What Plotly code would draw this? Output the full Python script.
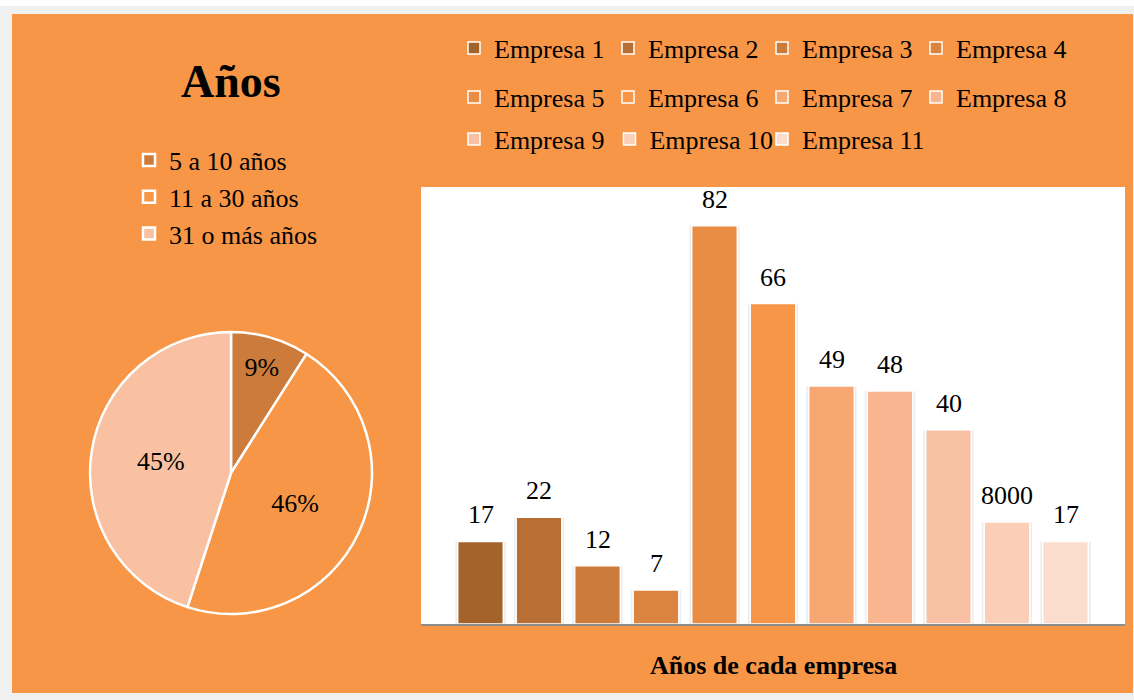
import plotly.graph_objects as go

# ---- data ----
empresas = ["Empresa 1", "Empresa 2", "Empresa 3", "Empresa 4", "Empresa 5", "Empresa 6",
            "Empresa 7", "Empresa 8", "Empresa 9", "Empresa 10", "Empresa 11"]
bar_values = [17, 22, 12, 7, 82, 66, 49, 48, 40, 21, 17]
bar_labels = ["17", "22", "12", "7", "82", "66", "49", "48", "40", "8000", "17"]
bar_colors = ["#A5632C", "#B96F33", "#CC7B3A", "#DA843F", "#E98D45", "#F79646",
              "#F7A772", "#F8B58F", "#F9C1A4", "#FBCEB8", "#FCDCCD"]

pie_labels = ["5 a 10 años", "11 a 30 años", "31 o más años"]
pie_values = [9, 46, 45]
pie_colors = ["#CC7B3A", "#F79646", "#F9C0A2"]

W, H = 1134, 700
FONT = "Liberation Serif, Times New Roman, serif"

def px(x):
    return x / W

def py(y):
    return 1 - y / H

fig = go.Figure()

positions = list(range(1, len(empresas) + 1))

# faint shadow behind bars
fig.add_trace(go.Bar(
    x=positions, y=bar_values, width=0.86, showlegend=False, hoverinfo="skip",
    marker=dict(color="rgba(0,0,0,0.07)", line=dict(width=0)),
))

legend_rows = ["legend"] * 4 + ["legend3"] * 4 + ["legend4"] * 2 + ["legend5"]

for i, (name, v, c) in enumerate(zip(empresas, bar_values, bar_colors)):
    fig.add_trace(go.Bar(
        x=[positions[i]], y=[v], name=name, width=0.78,
        marker=dict(color=c, line=dict(color="white", width=1.5)),
        legend=legend_rows[i], hoverinfo="skip",
    ))

fig.add_trace(go.Pie(
    labels=pie_labels, values=pie_values, sort=False, direction="clockwise",
    marker=dict(colors=pie_colors, line=dict(color="white", width=2.5)),
    textinfo="percent", texttemplate="%{percent:.0%}", textposition="inside",
    insidetextorientation="horizontal",
    textfont=dict(family=FONT, size=26, color="black"),
    domain=dict(x=[px(90), px(372)], y=[py(614), py(332)]),
    legend="legend2", hoverinfo="skip",
))

annotations = []
for i, (v, t) in enumerate(zip(bar_values, bar_labels)):
    annotations.append(dict(x=positions[i], y=v, xref="x", yref="y", text=t, showarrow=False,
                            xanchor="center", yanchor="bottom", yshift=10,
                            font=dict(family=FONT, size=26, color="black")))
annotations.append(dict(x=px(231), y=py(82), xref="paper", yref="paper", text="<b>Años</b>",
                        showarrow=False, xanchor="center", yanchor="middle",
                        font=dict(family=FONT, size=46, color="black")))
annotations.append(dict(x=px(773), y=py(665), xref="paper", yref="paper",
                        text="<b>Años de cada empresa</b>", showarrow=False,
                        xanchor="center", yanchor="middle",
                        font=dict(family=FONT, size=26, color="black")))

shapes = [
    dict(type="rect", xref="paper", yref="paper", x0=0, x1=1, y0=py(6), y1=1,
         fillcolor="white", line=dict(width=0), layer="below"),
    dict(type="rect", xref="paper", yref="paper", x0=px(12), x1=px(1133), y0=py(693), y1=py(14),
         fillcolor="#F79646", line=dict(width=0), layer="below"),
    dict(type="rect", xref="x domain", yref="y domain", x0=0, x1=1, y0=0, y1=1,
         fillcolor="white", line=dict(width=0), layer="below"),
]

leg_font = dict(family=FONT, size=26, color="black")
leg_common = dict(orientation="h", xanchor="left", yanchor="middle", bgcolor="rgba(0,0,0,0)",
                  font=leg_font, entrywidth=109, entrywidthmode="pixels")

fig.update_layout(
    width=W, height=H,
    margin=dict(l=0, r=0, t=0, b=0),
    paper_bgcolor="#F0F0F0", plot_bgcolor="white",
    font=dict(family=FONT, size=26, color="black"),
    barmode="overlay",
    xaxis=dict(domain=[px(421), px(1125)], range=[-0.017, 12.017], showticklabels=False,
               showgrid=False, zeroline=False, showline=True, linecolor="#8C8C8C",
               linewidth=2, ticks="", fixedrange=True),
    yaxis=dict(domain=[py(624), py(187)], range=[0, 90], showticklabels=False, showgrid=False,
               zeroline=False, showline=False, ticks="", fixedrange=True),
    legend=dict(x=px(454), y=py(48), **leg_common),
    legend3=dict(x=px(454), y=py(97), **leg_common),
    legend4=dict(x=px(454), y=py(139), orientation="h", xanchor="left", yanchor="middle",
                 bgcolor="rgba(0,0,0,0)", font=leg_font),
    legend5=dict(x=px(762), y=py(139), orientation="h", xanchor="left", yanchor="middle",
                 bgcolor="rgba(0,0,0,0)", font=leg_font),
    legend2=dict(x=px(129), y=py(197), xanchor="left", yanchor="middle",
                 bgcolor="rgba(0,0,0,0)", font=leg_font),
    annotations=annotations,
    shapes=shapes,
    showlegend=True,
)

fig.write_html("out.html", config={"displayModeBar": False},
               post_script="document.body.style.margin='0';document.body.style.overflow='hidden';")
